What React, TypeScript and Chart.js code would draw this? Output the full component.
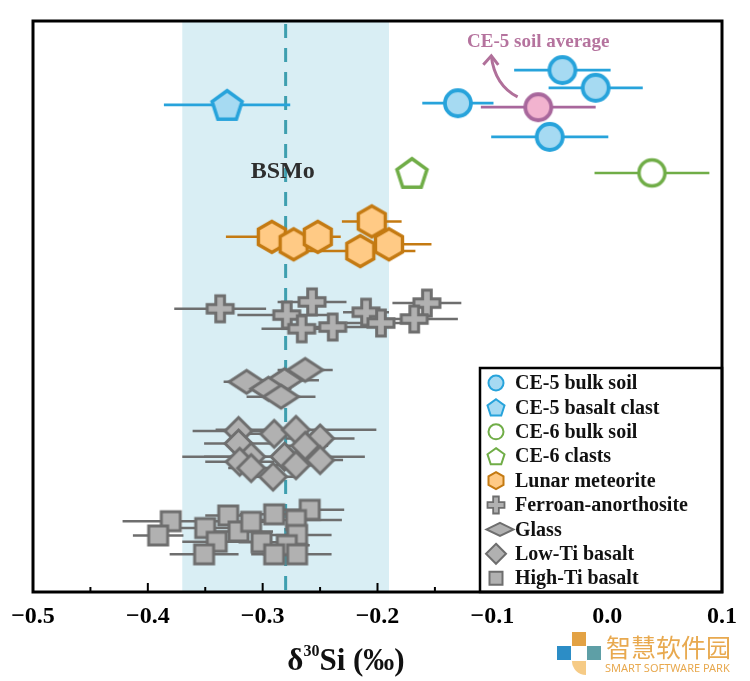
import React, { useEffect, useRef } from "react";
import { Chart, registerables } from "chart.js";

Chart.register(...registerables);

// ---------------- data ----------------
const X_MIN = -0.5;
const X_MAX = 0.1;
const X_STEP = 0.1;
const BAND_RANGE = [-0.37, -0.19];
const BSMO_VALUE = -0.28;

// y values are just row positions (0 = bottom, 100 = top)
const ce5BulkX = [-0.039, -0.010, -0.130, -0.050];
const ce5BulkY = [91.4, 88.3, 85.6, 79.7];
const ce5BulkErr = [0.042, 0.041, 0.031, 0.051];

const ce5AvgX = [-0.060];
const ce5AvgY = [84.9];
const ce5AvgErr = [0.050];

const ce5ClastX = [-0.331];
const ce5ClastY = [85.3];
const ce5ClastErr = [0.055];

const ce6BulkX = [0.039];
const ce6BulkY = [73.4];
const ce6BulkErr = [0.05];

const ce6ClastX = [-0.170];
const ce6ClastY = [73.4];
const ce6ClastErr = [0];

const meteoriteX = [-0.292, -0.273, -0.252, -0.205, -0.215, -0.190];
const meteoriteY = [62.2, 60.9, 62.2, 64.9, 59.7, 60.9];
const meteoriteErr = [0.04, 0.02, 0.02, 0.026, 0.048, 0.037];

const ferroanX = [-0.337, -0.257, -0.279, -0.266, -0.239, -0.210, -0.197, -0.157, -0.168];
const ferroanY = [49.6, 50.8, 48.5, 46.1, 46.4, 49.0, 47.1, 50.6, 47.8];
const ferroanErr = [0.04, 0.03, 0.043, 0.035, 0.03, 0.02, 0.03, 0.03, 0.038];

const glassX = [-0.314, -0.263, -0.281, -0.295, -0.284];
const glassY = [36.8, 38.9, 37.1, 35.6, 34.2];
const glassErr = [0.02, 0.024, 0.03, 0.02, 0.03];

const lowTiX = [-0.321, -0.290, -0.271, -0.250, -0.263, -0.321, -0.310, -0.281, -0.250, -0.320, -0.271, -0.310, -0.291];
const lowTiY = [28.2, 27.7, 28.4, 26.9, 25.6, 26.0, 23.7, 23.7, 23.1, 22.8, 22.2, 21.7, 20.2];
const lowTiErr = [0.04, 0.03, 0.07, 0.03, 0.02, 0.03, 0.06, 0.07, 0.02, 0.03, 0.02, 0.02, 0.02];

const highTiX = [-0.380, -0.391, -0.330, -0.350, -0.321, -0.340, -0.310, -0.290, -0.259, -0.271, -0.301, -0.270, -0.279, -0.351, -0.290, -0.270];
const highTiY = [12.4, 9.9, 13.4, 11.2, 10.6, 8.8, 12.3, 13.6, 14.4, 12.6, 8.7, 10.0, 8.2, 6.6, 6.6, 6.6];
const highTiErr = [0.042, 0.022, 0.02, 0.03, 0.03, 0.03, 0.02, 0.03, 0.03, 0.04, 0.02, 0.03, 0.02, 0.03, 0.02, 0.03];

const legendLabels = [
  "CE-5 bulk soil",
  "CE-5 basalt clast",
  "CE-6 bulk soil",
  "CE-6 clasts",
  "Lunar meteorite",
  "Ferroan-anorthosite",
  "Glass",
  "Low-Ti basalt",
  "High-Ti basalt",
];

const avgLabel = "CE-5 soil average";
const avgLabelPos = { x: -0.06, y: 96.3 };
const arrowPath = { start: { x: -0.078, y: 86.7 }, ctrl: { x: -0.098, y: 88.8 }, end: { x: -0.1009, y: 93.9 } };
const bsmoLabel = "BSMo";
const bsmoLabelY = 73.6;
const axisTitleMain = "δ";
const axisTitleSup = "30";
const axisTitleRest = "Si (‰)";

// ---------------- styles ----------------
const BLUE = "#27A3DB";
const BLUE_FILL = "#A6DAF2";
const PINK = "#A8679C";
const PINK_FILL = "#F2B3CF";
const GREEN = "#70AD47";
const ORANGE = "#C47A12";
const ORANGE_FILL = "#FFCA85";
const GRAY = "#6E6E6E";
const GRAY_FILL = "#B1B1B1";
const SERIF = '"Liberation Serif", "Times New Roman", serif';

type Shape = "circle" | "pentagon" | "hexagon" | "plus" | "diamond" | "square";

function pathShape(ctx: CanvasRenderingContext2D, kind: Shape, x: number, y: number, w: number, h: number) {
  ctx.beginPath();
  if (kind === "circle") {
    ctx.ellipse(x, y, w / 2, h / 2, 0, 0, Math.PI * 2);
  } else if (kind === "pentagon") {
    const r = w / (2 * Math.sin((72 * Math.PI) / 180));
    const yc = y + 0.095 * r;
    for (let i = 0; i < 5; i++) {
      const a = -Math.PI / 2 + (i * 2 * Math.PI) / 5;
      const px = x + r * Math.cos(a);
      const py = yc + r * Math.sin(a);
      if (i === 0) ctx.moveTo(px, py);
      else ctx.lineTo(px, py);
    }
  } else if (kind === "hexagon") {
    const r = h / 2;
    const sx = w / (Math.sqrt(3) * r);
    for (let i = 0; i < 6; i++) {
      const a = -Math.PI / 2 + (i * Math.PI) / 3;
      const px = x + r * Math.cos(a) * sx;
      const py = y + r * Math.sin(a);
      if (i === 0) ctx.moveTo(px, py);
      else ctx.lineTo(px, py);
    }
  } else if (kind === "plus") {
    const a = w / 2;
    const t = w / 6;
    const pts = [
      [-t, -a], [t, -a], [t, -t], [a, -t], [a, t], [t, t],
      [t, a], [-t, a], [-t, t], [-a, t], [-a, -t], [-t, -t],
    ];
    pts.forEach((p, i) => {
      if (i === 0) ctx.moveTo(x + p[0], y + p[1]);
      else ctx.lineTo(x + p[0], y + p[1]);
    });
  } else if (kind === "diamond") {
    ctx.moveTo(x, y - h / 2);
    ctx.lineTo(x + w / 2, y);
    ctx.lineTo(x, y + h / 2);
    ctx.lineTo(x - w / 2, y);
  } else {
    ctx.rect(x - w / 2, y - h / 2, w, h);
  }
  ctx.closePath();
}

function drawShape(ctx: CanvasRenderingContext2D, kind: Shape, x: number, y: number, w: number, h: number, fill: string, stroke: string, lw: number) {
  ctx.save();
  pathShape(ctx, kind, x, y, w, h);
  ctx.fillStyle = fill;
  ctx.fill();
  ctx.lineWidth = lw;
  ctx.strokeStyle = stroke;
  ctx.lineJoin = "miter";
  ctx.stroke();
  ctx.restore();
}

function makeStyle(kind: Shape, w: number, h: number, fill: string, stroke: string, lw: number) {
  const c = document.createElement("canvas");
  c.width = Math.ceil(w + lw * 2 + 2);
  c.height = Math.ceil(h + lw * 2 + 2);
  const ctx = c.getContext("2d")!;
  drawShape(ctx, kind, c.width / 2, c.height / 2, w, h, fill, stroke, lw);
  return c;
}

type Series = {
  label: string;
  xs: number[];
  ys: number[];
  errs: number[];
  shape: Shape;
  w: number;
  h: number;
  fill: string;
  stroke: string;
  lw: number;
  errColor: string;
  errWidth: number;
  lgW: number;
  lgH: number;
  lgLw: number;
  legendIndex: number;
};

const SERIES: Series[] = [
  { label: "High-Ti basalt", xs: highTiX, ys: highTiY, errs: highTiErr, shape: "square", w: 19, h: 19, fill: GRAY_FILL, stroke: GRAY, lw: 3, errColor: GRAY, errWidth: 2.5, lgW: 13, lgH: 13, lgLw: 2, legendIndex: 8 },
  { label: "Low-Ti basalt", xs: lowTiX, ys: lowTiY, errs: lowTiErr, shape: "diamond", w: 27, h: 27, fill: GRAY_FILL, stroke: GRAY, lw: 3, errColor: GRAY, errWidth: 2.5, lgW: 20, lgH: 20, lgLw: 2, legendIndex: 7 },
  { label: "Glass", xs: glassX, ys: glassY, errs: glassErr, shape: "diamond", w: 35, h: 23, fill: GRAY_FILL, stroke: GRAY, lw: 3, errColor: GRAY, errWidth: 2.5, lgW: 27, lgH: 13, lgLw: 2, legendIndex: 6 },
  { label: "Ferroan-anorthosite", xs: ferroanX, ys: ferroanY, errs: ferroanErr, shape: "plus", w: 26, h: 26, fill: GRAY_FILL, stroke: GRAY, lw: 3, errColor: GRAY, errWidth: 2.5, lgW: 17, lgH: 17, lgLw: 1.8, legendIndex: 5 },
  { label: "Lunar meteorite", xs: meteoriteX, ys: meteoriteY, errs: meteoriteErr, shape: "hexagon", w: 27, h: 31, fill: ORANGE_FILL, stroke: ORANGE, lw: 3.4, errColor: ORANGE, errWidth: 2.5, lgW: 15, lgH: 17, lgLw: 2, legendIndex: 4 },
  { label: "CE-6 clasts", xs: ce6ClastX, ys: ce6ClastY, errs: ce6ClastErr, shape: "pentagon", w: 30, h: 29, fill: "#FFFFFF", stroke: GREEN, lw: 3.5, errColor: GREEN, errWidth: 2.5, lgW: 17, lgH: 16, lgLw: 2, legendIndex: 3 },
  { label: "CE-6 bulk soil", xs: ce6BulkX, ys: ce6BulkY, errs: ce6BulkErr, shape: "circle", w: 26, h: 26, fill: "#FFFFFF", stroke: GREEN, lw: 3.5, errColor: GREEN, errWidth: 2.5, lgW: 15, lgH: 15, lgLw: 2, legendIndex: 2 },
  { label: "CE-5 basalt clast", xs: ce5ClastX, ys: ce5ClastY, errs: ce5ClastErr, shape: "pentagon", w: 30, h: 29, fill: BLUE_FILL, stroke: BLUE, lw: 3.5, errColor: BLUE, errWidth: 2.8, lgW: 17, lgH: 16, lgLw: 2, legendIndex: 1 },
  { label: "CE-5 bulk soil", xs: ce5BulkX, ys: ce5BulkY, errs: ce5BulkErr, shape: "circle", w: 26, h: 26, fill: BLUE_FILL, stroke: BLUE, lw: 3.8, errColor: BLUE, errWidth: 2.8, lgW: 15, lgH: 15, lgLw: 2, legendIndex: 0 },
  { label: avgLabel, xs: ce5AvgX, ys: ce5AvgY, errs: ce5AvgErr, shape: "circle", w: 26, h: 26, fill: PINK_FILL, stroke: PINK, lw: 3.8, errColor: PINK, errWidth: 2.8, lgW: 0, lgH: 0, lgLw: 0, legendIndex: -1 },
];

function fmtTick(v: number) {
  if (Math.abs(v) < 1e-9) return "0.0";
  return v.toFixed(1).replace("-", "\u2212");
}

const customPlugin = {
  id: "custom",
  beforeDatasetsDraw(chart: any) {
    const { ctx, chartArea: ca, scales } = chart;
    const xs = scales.x;
    const ys = scales.y;
    ctx.save();
    // band
    const b0 = xs.getPixelForValue(BAND_RANGE[0]);
    const b1 = xs.getPixelForValue(BAND_RANGE[1]);
    ctx.fillStyle = "#D9EEF4";
    ctx.fillRect(b0, ca.top, b1 - b0, ca.bottom - ca.top);
    // dashed BSMo line
    const bx = xs.getPixelForValue(BSMO_VALUE);
    ctx.strokeStyle = "#3E9FAF";
    ctx.lineWidth = 3;
    ctx.setLineDash([14, 10]);
    ctx.beginPath();
    ctx.moveTo(bx, ca.top + 3);
    ctx.lineTo(bx, ca.bottom);
    ctx.stroke();
    ctx.setLineDash([]);
    // BSMo label
    ctx.fillStyle = "#2E2E2E";
    ctx.font = `bold 24px ${SERIF}`;
    ctx.textAlign = "center";
    ctx.textBaseline = "middle";
    ctx.fillText(bsmoLabel, bx - 3, ys.getPixelForValue(bsmoLabelY));
    // error bars
    chart.data.datasets.forEach((ds: any) => {
      const s: Series = ds._series;
      ctx.strokeStyle = s.errColor;
      ctx.lineWidth = s.errWidth;
      s.xs.forEach((x, i) => {
        const e = s.errs[i];
        if (!e) return;
        const py = ys.getPixelForValue(s.ys[i]);
        ctx.beginPath();
        ctx.moveTo(xs.getPixelForValue(x - e), py);
        ctx.lineTo(xs.getPixelForValue(x + e), py);
        ctx.stroke();
      });
    });
    ctx.restore();
  },
  afterDatasetsDraw(chart: any) {
    const { ctx, chartArea: ca, scales } = chart;
    const xs = scales.x;
    const ys = scales.y;
    ctx.save();
    // annotation arrow
    const p = (pt: { x: number; y: number }) => [xs.getPixelForValue(pt.x), ys.getPixelForValue(pt.y)];
    const [sx, sy] = p(arrowPath.start);
    const [cx, cy] = p(arrowPath.ctrl);
    const [ex, ey] = p(arrowPath.end);
    ctx.strokeStyle = "#B0709A";
    ctx.lineWidth = 3;
    ctx.lineCap = "butt";
    ctx.beginPath();
    ctx.moveTo(sx, sy);
    ctx.quadraticCurveTo(cx, cy, ex, ey);
    ctx.stroke();
    ctx.beginPath();
    ctx.moveTo(ex - 8, ey + 9);
    ctx.lineTo(ex, ey);
    ctx.lineTo(ex + 7, ey + 9);
    ctx.stroke();
    const [tx, ty] = p(avgLabelPos);
    ctx.fillStyle = "#B5739E";
    ctx.font = `bold 19px ${SERIF}`;
    ctx.textAlign = "center";
    ctx.textBaseline = "middle";
    ctx.fillText(avgLabel, tx, ty);

    // inward ticks
    ctx.strokeStyle = "#000";
    ctx.lineWidth = 2;
    const n = Math.round((X_MAX - X_MIN) / (X_STEP / 2));
    for (let i = 1; i < n; i++) {
      const v = X_MIN + (i * X_STEP) / 2;
      const px = xs.getPixelForValue(v);
      const len = i % 2 === 0 ? 9 : 5;
      ctx.beginPath();
      ctx.moveTo(px, ca.bottom);
      ctx.lineTo(px, ca.bottom - len);
      ctx.stroke();
    }

    // legend
    const lw = 242;
    const lh = 224;
    const lx = ca.right - lw;
    const ly = ca.bottom - lh;
    ctx.fillStyle = "#FFFFFF";
    ctx.fillRect(lx, ly, lw, lh);
    ctx.strokeStyle = "#000";
    ctx.lineWidth = 2.5;
    ctx.strokeRect(lx, ly, lw, lh);
    ctx.font = `bold 20px ${SERIF}`;
    ctx.textAlign = "left";
    ctx.textBaseline = "middle";
    legendLabels.forEach((lab, idx) => {
      const s = SERIES.find((q) => q.legendIndex === idx)!;
      const rowY = ly + 15 + idx * 24.4;
      const mx = s.shape === "diamond" && s.lgW > s.lgH ? lx + 20 : lx + 16;
      drawShape(ctx, s.shape, mx, rowY, s.lgW, s.lgH, s.fill, s.stroke, s.lgLw);
      ctx.fillStyle = "#111";
      ctx.fillText(lab, lx + 35, rowY + 1);
    });

    ctx.restore();
  },
  afterDraw(chart: any) {
    const { ctx, chartArea: ca } = chart;
    ctx.save();
    // frame
    ctx.strokeStyle = "#000";
    ctx.lineWidth = 3;
    ctx.strokeRect(ca.left, ca.top, ca.right - ca.left, ca.bottom - ca.top);
    // axis title
    ctx.fillStyle = "#111";
    ctx.textBaseline = "alphabetic";
    ctx.textAlign = "left";
    const big = `bold 31px ${SERIF}`;
    const small = `bold 16px ${SERIF}`;
    ctx.font = big;
    const w1 = ctx.measureText(axisTitleMain).width;
    const w3 = ctx.measureText(axisTitleRest).width;
    ctx.font = small;
    const w2 = ctx.measureText(axisTitleSup).width;
    const total = w1 + w2 + w3;
    let x0 = 346 - total / 2;
    const base = 670;
    ctx.font = big;
    ctx.fillText(axisTitleMain, x0, base);
    x0 += w1;
    ctx.font = small;
    ctx.fillText(axisTitleSup, x0, base - 14);
    x0 += w2;
    ctx.font = big;
    ctx.fillText(axisTitleRest, x0, base);

    // watermark logo
    ctx.fillStyle = "#E3A244";
    ctx.fillRect(572, 632, 14, 14);
    ctx.fillStyle = "#2C8DC6";
    ctx.fillRect(557, 646, 14, 14);
    ctx.fillStyle = "#5E9FA6";
    ctx.fillRect(587, 646, 14, 14);
    ctx.fillStyle = "#F6CB86";
    ctx.beginPath();
    ctx.moveTo(572, 661);
    ctx.lineTo(586, 661);
    ctx.lineTo(586, 675);
    ctx.arc(586, 661, 14, Math.PI / 2, Math.PI, false);
    ctx.closePath();
    ctx.fill();
    ctx.fillStyle = "#E8A94F";
    ctx.font = `25px "Noto Sans CJK SC", sans-serif`;
    ctx.textBaseline = "middle";
    ctx.fillText("智慧软件园", 606, 647);
    ctx.font = `11px "Noto Sans", sans-serif`;
    ctx.fillText("SMART SOFTWARE PARK", 605, 669);
    ctx.restore();
  },
};

export default function App() {
  const ref = useRef<HTMLCanvasElement | null>(null);
  useEffect(() => {
    if (!ref.current) return;
    const datasets = SERIES.map((s) => ({
      label: s.label,
      data: s.xs.map((x, i) => ({ x, y: s.ys[i] })),
      pointStyle: makeStyle(s.shape, s.w, s.h, s.fill, s.stroke, s.lw),
      pointRadius: s.w / 2,
      showLine: false,
      _series: s,
    }));
    const chart = new Chart(ref.current, {
      type: "scatter",
      data: { datasets } as any,
      options: {
        responsive: false,
        animation: false,
        layout: { padding: { left: 33, right: 28, top: 21, bottom: 0 } },
        plugins: { legend: { display: false }, tooltip: { enabled: false }, title: { display: false } },
        scales: {
          x: {
            type: "linear",
            min: X_MIN,
            max: X_MAX,
            grid: { display: false },
            border: { display: false },
            ticks: {
              stepSize: X_STEP,
              autoSkip: false,
              maxRotation: 0,
              padding: 2,
              color: "#000",
              font: { family: SERIF, size: 24, weight: "bold" },
              callback: (v: any) => fmtTick(Number(v)),
            },
            afterFit: (scale: any) => {
              scale.height = 89;
            },
          },
          y: { type: "linear", min: 0, max: 100, display: false },
        },
      } as any,
      plugins: [customPlugin],
    });
    return () => chart.destroy();
  }, []);
  return (
    <div style={{ position: "absolute", left: 0, top: 0, width: 750, height: 681, background: "#fff" }}>
      <canvas ref={ref} width={750} height={681} style={{ display: "block" }} />
    </div>
  );
}
